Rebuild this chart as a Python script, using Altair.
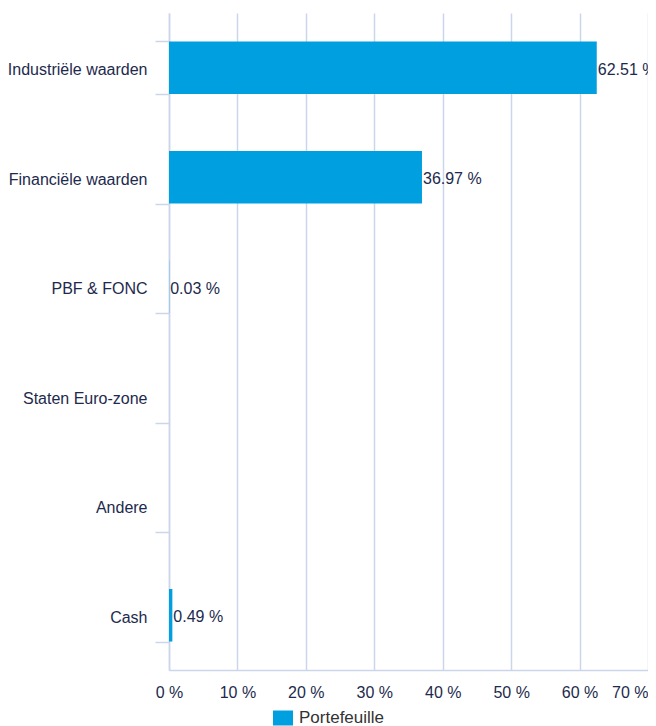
import altair as alt
import pandas as pd

categories = ["Industriële waarden", "Financiële waarden", "PBF & FONC",
              "Staten Euro-zone", "Andere", "Cash"]
values = [62.51, 36.97, 0.03, None, None, 0.49]
series_name = "Portefeuille"
x_ticks = [0, 10, 20, 30, 40, 50, 60, 70]

df = pd.DataFrame({"cat": categories, "val": values, "serie": series_name})
df["label"] = df["val"].map(lambda v: "" if pd.isna(v) else f"{v:.2f} %")

NAVY = "#1d2a4d"
GRID = "#ccd6eb"
BLUE = "#009fe0"
FONT = "Liberation Sans"

y_enc = alt.Y("cat:N", sort=categories, title=None,
              scale=alt.Scale(paddingInner=0.52, paddingOuter=0.26),
              axis=alt.Axis(tickBand="extent", tickSize=14, tickColor=GRID,
                            tickWidth=1.5, labelOffset=2,
                            domainColor=GRID, domainWidth=1.5, labelPadding=8,
                            labelFontSize=16, labelColor=NAVY, labelFont=FONT,
                            grid=False, labelLimit=200))
x_enc = alt.X("val:Q", title=None,
              scale=alt.Scale(domain=[0, 70], nice=False),
              axis=alt.Axis(values=x_ticks, labelExpr="datum.value + ' %'",
                            grid=True, gridColor=GRID, gridWidth=1.5,
                            ticks=False, domainColor=GRID, domainWidth=1.5,
                            labelPadding=14, labelFontSize=16, labelColor=NAVY,
                            labelFont=FONT,
                            labelAlign={"condition": {"test": "datum.value === 70", "value": "right"}, "value": "center"}))

bars = alt.Chart(df).mark_bar(color=BLUE).encode(
    y=y_enc,
    x=x_enc,
    color=alt.Color("serie:N", scale=alt.Scale(range=[BLUE]), title=None,
                    legend=alt.Legend(orient="none", legendX=104, legendY=695,
                                      symbolType="M-1,-0.75H1V0.75H-1Z",
                                      symbolSize=400, symbolStrokeWidth=0,
                                      symbolOpacity=1,
                                      labelFontSize=17, labelColor="#333333",
                                      labelFont=FONT, labelOffset=6)),
)

text = alt.Chart(df).transform_filter("datum.val != null").mark_text(
    align="left", baseline="middle", dx=1, dy=2, fontSize=16, color=NAVY, font=FONT
).encode(
    y=alt.Y("cat:N", sort=categories),
    x=alt.X("val:Q"),
    text="label:N",
)

chart = alt.layer(bars, text).properties(
    width=479, height=657,
    autosize=alt.AutoSizeParams(type="none"),
    padding={"left": 161, "top": 5, "right": 0, "bottom": 56},
).configure_view(stroke=None)

chart.save("out.html", embed_options={"renderer": "svg", "actions": False})
